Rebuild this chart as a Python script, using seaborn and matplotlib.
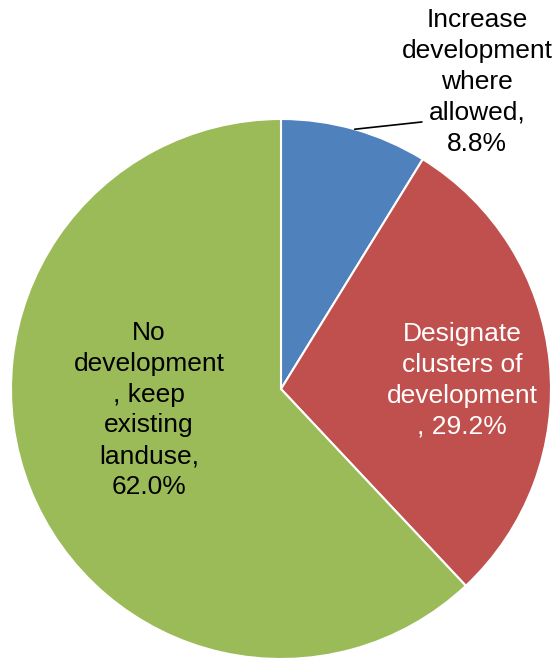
import numpy as np
import matplotlib
matplotlib.use("Agg")
import matplotlib.pyplot as plt
import seaborn as sns

# Survey responses: preferred approach to development
categories = ["Increase\ndevelopment\nwhere\nallowed,", "Designate\nclusters of\ndevelopment\n,",
              "No\ndevelopment\n, keep\nexisting\nlanduse,"]
shares = [8.8, 29.2, 62.0]
colors = ["#4F81BD", "#C0504D", "#9BBB59"]
text_colors = ["black", "white", "black"]

sns.set_style("white")
plt.rcParams["font.family"] = ["Liberation Sans", "DejaVu Sans"]

fig = plt.figure(figsize=(5.57, 6.60), dpi=100)
ax = fig.add_axes([0, 0, 1, 1])

wedges, _ = ax.pie(shares, colors=colors, startangle=90, counterclock=False,
                   radius=1.0, wedgeprops=dict(edgecolor="white", linewidth=1.5))

ax.set_aspect("auto")
ax.set_xlim(-1.0407, 1.0222)
ax.set_ylim(-1.0037, 1.4407)
ax.axis("off")

def label_text(i):
    cat = categories[i]
    if cat.split("\n")[-1] == ",":
        return cat + f" {shares[i]:.1f}%"
    return cat + f"\n{shares[i]:.1f}%"

style = dict(ha="center", va="center", fontsize=19, linespacing=1.36)

# Outside label for the small wedge, with a leader line from the wedge's mid-angle
w = wedges[0]
mid = np.deg2rad((w.theta1 + w.theta2) / 2)
ax.plot([np.cos(mid), 0.522], [np.sin(mid), 0.989], color="black", lw=1.2)
ax.text(0.726, 1.137, label_text(0), color=text_colors[0], **style)

# Inside labels
ax.text(0.670, 0.033, label_text(1), color=text_colors[1], **style)
ax.text(-0.489, -0.078, label_text(2), color=text_colors[2], **style)

fig.savefig("out.png", dpi=100)
